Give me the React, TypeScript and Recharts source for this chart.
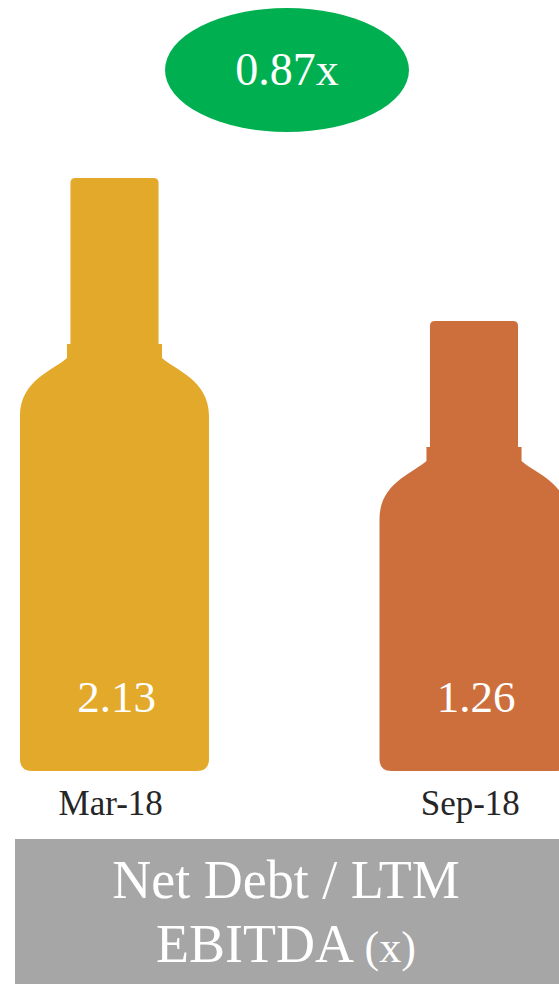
import { BarChart, Bar, XAxis, YAxis, Cell } from "recharts";

const categories = ["Mar-18", "Sep-18"];
const ratios = [2.13, 1.26];
const barColors = ["#E3A92A", "#CD6F3C"];
const changeLabel = "0.87x";
const titleLines = ["Net Debt / LTM", "EBITDA"];

// the bottles are not drawn from zero, the axis starts below it
const axisDomain = [-1.48, 2.13];

const data = categories.map((name, i) => ({ name, value: ratios[i] }));

const FONT = "'Liberation Serif', 'DejaVu Serif', serif";

// Bottle shape, neck height grows with the bar
const Bottle = (props: any) => {
  const { x, y, width, fill, background, value } = props;
  const bottom = background ? background.y + background.height : 771;
  const H = bottom - y;
  const cx = x + width / 2;
  const bh = width / 2;
  const nh = width * 0.233;
  const lip = nh + 3.5;
  const ys = y + H * 0.28;
  const r = 5;
  const rb = 12;

  const d = [
    `M ${cx - nh} ${y + r}`,
    `Q ${cx - nh} ${y} ${cx - nh + r} ${y}`,
    `L ${cx + nh - r} ${y}`,
    `Q ${cx + nh} ${y} ${cx + nh} ${y + r}`,
    `L ${cx + nh} ${ys}`,
    `L ${cx + lip} ${ys}`,
    `L ${cx + lip} ${ys + 14}`,
    `C ${cx + bh - 34} ${ys + 26} ${cx + bh} ${ys + 36} ${cx + bh} ${ys + 72}`,
    `L ${cx + bh} ${bottom - rb}`,
    `Q ${cx + bh} ${bottom} ${cx + bh - rb} ${bottom}`,
    `L ${cx - bh + rb} ${bottom}`,
    `Q ${cx - bh} ${bottom} ${cx - bh} ${bottom - rb}`,
    `L ${cx - bh} ${ys + 72}`,
    `C ${cx - bh} ${ys + 36} ${cx - bh + 34} ${ys + 26} ${cx - lip} ${ys + 14}`,
    `L ${cx - lip} ${ys}`,
    `L ${cx - nh} ${ys}`,
    "Z",
  ].join(" ");

  const v = Array.isArray(value) ? value[1] : value;

  return (
    <g>
      <path d={d} fill={fill} />
      <text
        x={cx + 2}
        y={bottom - 59}
        textAnchor="middle"
        fill="#ffffff"
        fontSize={45}
        fontFamily={FONT}
      >
        {Number(v).toFixed(2)}
      </text>
    </g>
  );
};

const CategoryTick = (props: any) => {
  const { x, y, payload } = props;
  return (
    <text
      x={x - 4}
      y={y + 36}
      textAnchor="middle"
      fill="#262626"
      fontSize={35}
      fontFamily={FONT}
    >
      {payload.value}
    </text>
  );
};

export default function App() {
  return (
    <div
      style={{
        position: "absolute",
        left: 0,
        top: 0,
        width: 559,
        height: 984,
        overflow: "hidden",
        background: "#ffffff",
        fontFamily: FONT,
      }}
    >
      <div style={{ position: "absolute", left: -65, top: 0 }}>
        <BarChart
          width={719}
          height={984}
          data={data}
          margin={{ top: 178, right: 0, left: 0, bottom: 153 }}
        >
          <XAxis
            dataKey="name"
            axisLine={false}
            tickLine={false}
            height={60}
            interval={0}
            tick={<CategoryTick />}
          />
          <YAxis hide domain={axisDomain} allowDataOverflow />
          <Bar
            dataKey="value"
            barSize={189}
            isAnimationActive={false}
            shape={(p: any) => <Bottle {...p} />}
          >
            {data.map((d, i) => (
              <Cell key={d.name} fill={barColors[i]} />
            ))}
          </Bar>
        </BarChart>
      </div>

      {/* change badge */}
      <div
        style={{
          position: "absolute",
          left: 165,
          top: 8,
          width: 244,
          height: 124,
          borderRadius: "50%",
          background: "#00B050",
          color: "#ffffff",
          fontSize: 46,
          lineHeight: "124px",
          textAlign: "center",
        }}
      >
        {changeLabel}
      </div>

      {/* title box */}
      <div
        style={{
          position: "absolute",
          left: 15,
          top: 839,
          width: 544,
          height: 145,
          background: "#A6A6A6",
          color: "#ffffff",
          textAlign: "center",
        }}
      >
        <div style={{ width: 542, fontSize: 54, lineHeight: "64px", paddingTop: 9 }}>
          {titleLines[0]}
        </div>
        <div style={{ width: 542, fontSize: 54, lineHeight: "64px" }}>
          {titleLines[1]} <span style={{ fontSize: 44 }}>(x)</span>
        </div>
      </div>
    </div>
  );
}
